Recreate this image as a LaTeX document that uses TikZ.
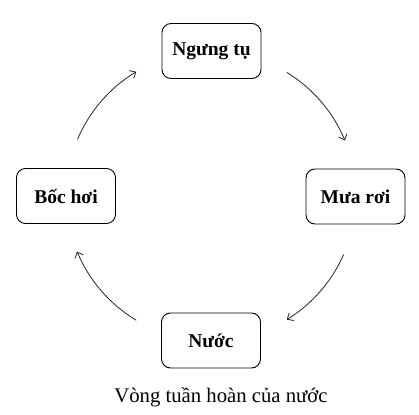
\documentclass[tikz,border=0pt]{standalone}
\usepackage{fontspec}
\setmainfont{Liberation Serif}
\usetikzlibrary{arrows.meta}
\begin{document}
\begin{tikzpicture}[x=1bp,y=1bp,
  box/.style={draw=black,line width=0.9bp,rounded corners=9bp,minimum width=99bp,minimum height=55bp,inner sep=0pt,font=\fontsize{19.6}{21}\selectfont\bfseries},
  arr/.style={draw=black!85,line width=0.8bp,-{Straight Barb[length=5bp,width=9bp]}}]
\useasboundingbox (0,0) rectangle (419,415);
\fill[white] (0,0) rectangle (419,415);
\node[box] (top) at (211.5,364) {Ngưng tụ};
\node[box] (right) at (355.5,218.5) {Mưa rơi};
\node[box] (left) at (66,219) {Bốc hơi};
\node[box] (bottom) at (211,74.5) {Nước};
\node[anchor=base,font=\fontsize{20.8}{22}\selectfont] (cap) at (221,13) {Vòng tuần hoàn của nước};
\coordinate (c) at (211,219);
\draw[arr] (c) ++(58.5:145) arc[start angle=58.5,end angle=22.5,radius=145];
\draw[arr] (c) ++(-23.8:145) arc[start angle=-23.8,end angle=-58.5,radius=145];
\draw[arr] (c) ++(-121:145) arc[start angle=-121,end angle=-157.5,radius=145];
\draw[arr] (c) ++(157:145) arc[start angle=157,end angle=121,radius=145];
\end{tikzpicture}
\end{document}
